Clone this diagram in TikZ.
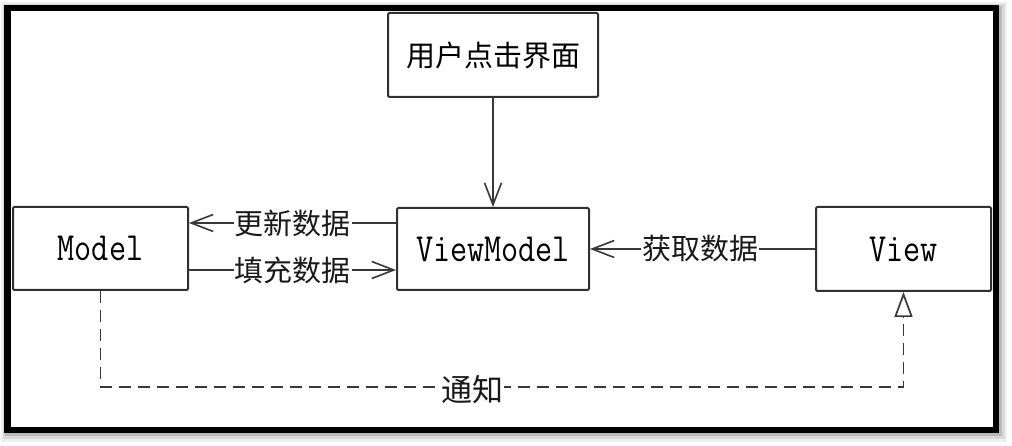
\documentclass[tikz,border=0pt]{standalone}
\usepackage{fontspec}
\usepackage{graphicx}
\newfontfamily\cjk{Noto Sans CJK SC}
\usetikzlibrary{arrows.meta}
\definecolor{boxline}{HTML}{303030}
\definecolor{arrline}{HTML}{383838}
\newcommand{\lat}[1]{{\fontsize{40}{40}\selectfont\ttfamily\scalebox{0.83}[1]{#1}}}
\tikzset{
  box/.style={draw=boxline, line width=2pt, rounded corners=1.2pt, inner sep=0pt, fill=white},
  arr/.style={draw=arrline, line width=1.6pt, -{Straight Barb[length=22pt,width=17pt,line width=1.6pt]}},
  lbl/.style={fill=white, inner xsep=1pt, inner ysep=2pt, font=\cjk\fontsize{29}{29}\selectfont, text=black!90},
  dashline/.style={draw=arrline, line width=1.7pt, dash pattern=on 12pt off 7pt,
     -{Triangle[open,length=25pt,width=18pt,line width=1.7pt,fill=white]}}
}
\begin{document}
\begin{tikzpicture}[x=1pt,y=-1pt]
\useasboundingbox (0,0) rectangle (1012,446);
% shadow and frame
\fill[gray!12] (1,2) rectangle (1007,442);
\fill[gray!30] (3,4) rectangle (1005,439);
\fill[gray!55] (5,6) rectangle (1002,436);
\draw[line width=6.5pt, fill=white] (7.5,8) rectangle (996,430);
% nodes
\node[box, minimum width=210pt, minimum height=84pt] (click) at (493,55)
  {\cjk\fontsize{29}{29}\selectfont 用户点击界面};
\node[box, minimum width=192pt, minimum height=82pt] (vm) at (493,249) {\lat{ViewModel}};
\node[box, minimum width=175pt, minimum height=83pt] (model) at (100.5,248.5) {\lat{Model}};
\node[box, minimum width=175pt, minimum height=84pt] (view) at (903.5,249) {\lat{View}};
% connectors
\draw[arr] (click.south) -- (vm.north);
\draw[arr] ([yshift=26pt]vm.west) -- ([yshift=26pt]vm.west -| model.east)
  node[lbl, midway] {更新数据};
\draw[arr] ([yshift=-21pt]vm.west -| model.east) -- ([yshift=-21pt]vm.west)
  node[lbl, midway] {填充数据};
\draw[arr] (view.west) -- (vm.east) node[lbl, pos=0.51] {获取数据};
\draw[dashline] (model.south) -- (model.south |- 0,387)
  -- node[lbl, pos=0.463, font=\cjk\fontsize{31}{31}\selectfont, yshift=-3pt] {通知} (view.south |- 0,387)
  -- (view.south);
\end{tikzpicture}
\end{document}
